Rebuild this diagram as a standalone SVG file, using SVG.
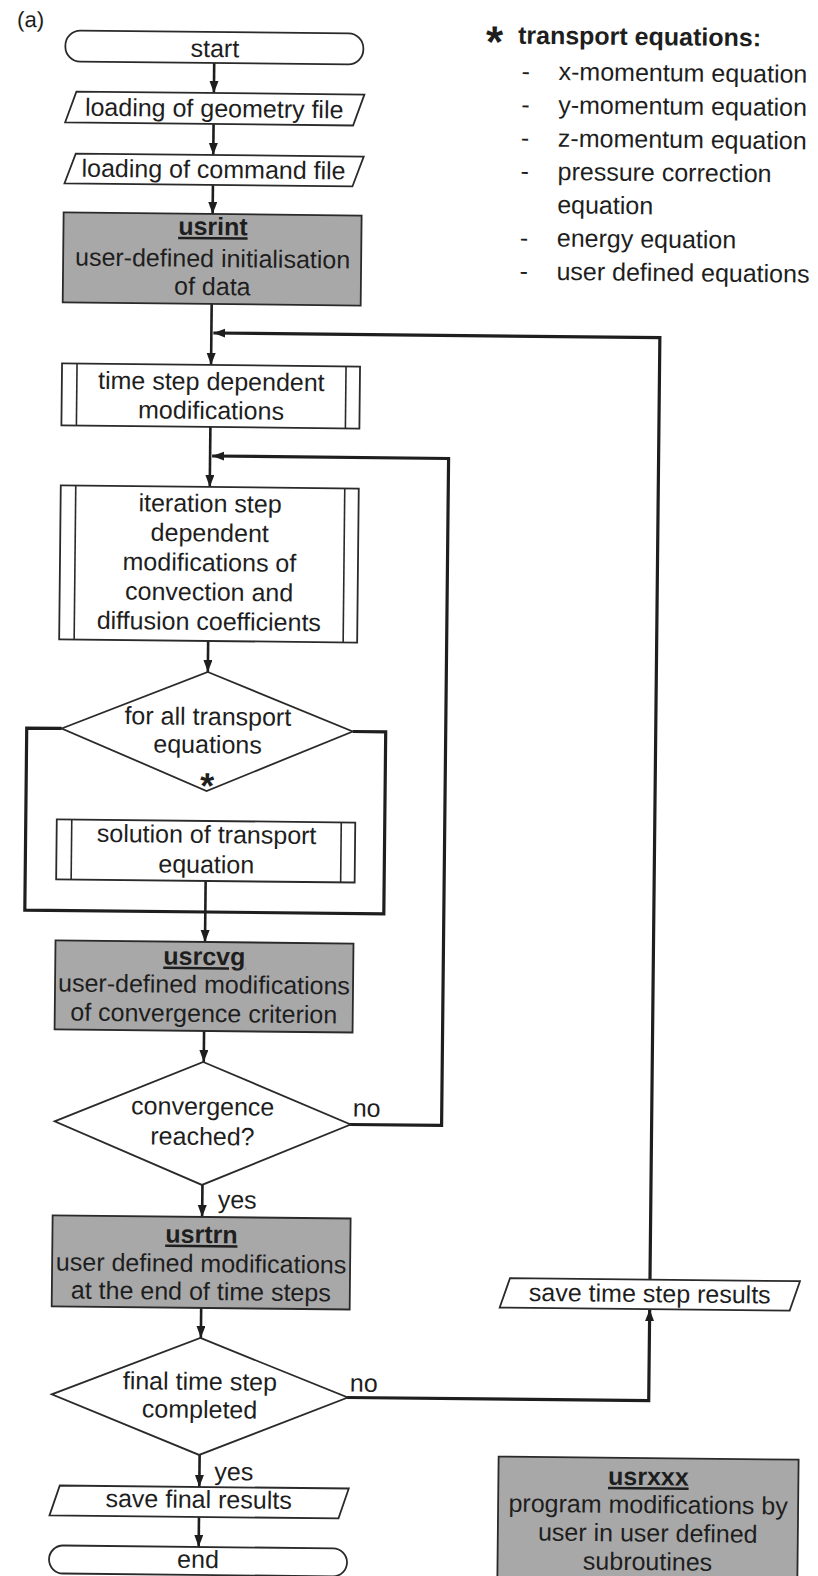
<svg xmlns="http://www.w3.org/2000/svg" width="818" height="1576" viewBox="0 0 818 1576">
  <defs>
    <style>
      .n { fill:#ffffff; stroke:#2a2a2a; stroke-width:1.8; }
      .g { fill:#a8a8a8; stroke:#2a2a2a; stroke-width:1.8; }
      .ln { fill:none; stroke:#2a2a2a; stroke-width:1.6; }
      .t { font-family:"Liberation Sans", Arial, sans-serif; font-size:25px; fill:#1e1e1e; text-anchor:middle; }
      .s { text-anchor:start; }
      .h { font-weight:bold; }
      .u { font-weight:bold; text-decoration:underline; }
      .c { fill:none; stroke:#1e1e1e; stroke-width:2.6; }
      .k { fill:none; stroke:#1e1e1e; stroke-width:3.2; }
    </style>
    <marker id="ah" markerUnits="userSpaceOnUse" markerWidth="13" markerHeight="10" refX="12" refY="4.5" orient="auto">
      <path d="M0,0 L12,4.5 L0,9 z" fill="#1e1e1e"/>
    </marker>
  </defs>

  <rect x="0" y="0" width="818" height="1576" fill="#ffffff"/>

  <g transform="rotate(0.6 400 800)">
    <text class="t s" x="9" y="31" style="font-size:22px">(a)</text>

    <!-- connectors -->
    <g id="connectors">
      <line class="c" x1="206.5" y1="65" x2="206.5" y2="95" marker-end="url(#ah)"/>
      <line class="c" x1="206.5" y1="126" x2="206.5" y2="157" marker-end="url(#ah)"/>
      <line class="c" x1="206.5" y1="187" x2="206.5" y2="216" marker-end="url(#ah)"/>
      <line class="c" x1="206.5" y1="306" x2="206.5" y2="367" marker-end="url(#ah)"/>
      <line class="c" x1="206.5" y1="429" x2="206.5" y2="489" marker-end="url(#ah)"/>
      <line class="c" x1="206.5" y1="643" x2="206.5" y2="674" marker-end="url(#ah)"/>
      <line class="c" x1="206.5" y1="883" x2="206.5" y2="944" marker-end="url(#ah)"/>
      <line class="c" x1="206.5" y1="1033" x2="206.5" y2="1064" marker-end="url(#ah)"/>
      <line class="c" x1="206.5" y1="1187" x2="206.5" y2="1219" marker-end="url(#ah)"/>
      <line class="c" x1="206.5" y1="1310" x2="206.5" y2="1340" marker-end="url(#ah)"/>
      <line class="c" x1="206.5" y1="1457" x2="206.5" y2="1489" marker-end="url(#ah)"/>
      <line class="c" x1="206.5" y1="1519" x2="206.5" y2="1549" marker-end="url(#ah)"/>
      <!-- loop over transport equations -->
      <path class="k" d="M61,732 L26,732 L26,914 L385,914 L385,732 L352,732"/>
      <!-- iteration loop -->
      <path class="k" d="M353,1125 L445,1125 L445,458 L208.5,458" marker-end="url(#ah)"/>
      <!-- time step loop -->
      <path class="k" d="M353,1398 L655,1398 L655,1306.5" marker-end="url(#ah)"/>
      <path class="k" d="M655,1277 L655,335 L208.5,335" marker-end="url(#ah)"/>
    </g>

    <g id="start">
      <rect class="n" x="57.5" y="34" width="298" height="31" rx="15" ry="15"/>
      <text class="t" x="207" y="59">start</text>
    </g>

    <g id="load-geometry">
      <polygon class="n" points="58,126 69,95 357,95 346,126"/>
      <text class="t" x="207" y="119">loading of geometry file</text>
    </g>

    <g id="load-command">
      <polygon class="n" points="58,187 69,157 357,157 346,187"/>
      <text class="t" x="207" y="180">loading of command file</text>
    </g>

    <g id="usrint">
      <rect class="g" x="57.5" y="216" width="298" height="90"/>
      <text class="t u" x="207" y="237">usrint</text>
      <text class="t" x="207" y="269">user-defined initialisation</text>
      <text class="t" x="207" y="297">of data</text>
    </g>

    <g id="timestep-mods">
      <rect class="n" x="57.5" y="367" width="298" height="62"/>
      <line class="ln" x1="72.5" y1="367" x2="72.5" y2="429"/>
      <line class="ln" x1="341.5" y1="367" x2="341.5" y2="429"/>
      <text class="t" x="207" y="392">time step dependent</text>
      <text class="t" x="207" y="421">modifications</text>
    </g>

    <g id="iteration-mods">
      <rect class="n" x="57.5" y="489" width="298" height="154"/>
      <line class="ln" x1="72.5" y1="489" x2="72.5" y2="643"/>
      <line class="ln" x1="341.5" y1="489" x2="341.5" y2="643"/>
      <text class="t" x="207" y="514">iteration step</text>
      <text class="t" x="207" y="543.5">dependent</text>
      <text class="t" x="207" y="573">modifications of</text>
      <text class="t" x="207" y="602.5">convection and</text>
      <text class="t" x="207" y="632">diffusion coefficients</text>
    </g>

    <g id="for-all-equations">
      <polygon class="n" points="206.5,674 352,732 206.5,793 61,732"/>
      <text class="t" x="207" y="727">for all transport</text>
      <text class="t" x="207" y="755">equations</text>
      <text class="t h" x="207" y="800" style="font-size:36px">*</text>
    </g>

    <g id="solve-equation">
      <rect class="n" x="57" y="823" width="298.5" height="60"/>
      <line class="ln" x1="72" y1="823" x2="72" y2="883"/>
      <line class="ln" x1="341.5" y1="823" x2="341.5" y2="883"/>
      <text class="t" x="207" y="845">solution of transport</text>
      <text class="t" x="207" y="875">equation</text>
    </g>

    <g id="usrcvg">
      <rect class="g" x="57" y="944" width="298" height="89"/>
      <text class="t u" x="206" y="967">usrcvg</text>
      <text class="t" x="206" y="995">user-defined modifications</text>
      <text class="t" x="206" y="1024">of convergence criterion</text>
    </g>

    <g id="convergence">
      <polygon class="n" points="206,1064 354,1125 206,1187 58,1125"/>
      <text class="t" x="206" y="1117">convergence</text>
      <text class="t" x="206" y="1147">reached?</text>
      <text class="t s" x="356" y="1117">no</text>
      <text class="t s" x="222" y="1210">yes</text>
    </g>

    <g id="usrtrn">
      <rect class="g" x="57" y="1219" width="298" height="91"/>
      <text class="t u" x="206" y="1245">usrtrn</text>
      <text class="t" x="206" y="1274">user defined modifications</text>
      <text class="t" x="206" y="1302">at the end of time steps</text>
    </g>

    <g id="final-step">
      <polygon class="n" points="206,1340 354,1398 206,1457 58,1398"/>
      <text class="t" x="206" y="1392">final time step</text>
      <text class="t" x="206" y="1420">completed</text>
      <text class="t s" x="356" y="1392">no</text>
      <text class="t s" x="221.5" y="1482">yes</text>
    </g>

    <g id="save-step">
      <polygon class="n" points="505,1306.5 515,1277 805,1277 795,1306.5"/>
      <text class="t" x="655" y="1299.5">save time step results</text>
    </g>

    <g id="save-final">
      <polygon class="n" points="57,1519 67,1489 356,1489 346,1519"/>
      <text class="t" x="206" y="1510">save final results</text>
    </g>

    <g id="end">
      <rect class="n" x="57" y="1549" width="298" height="28" rx="14" ry="14"/>
      <text class="t" x="206" y="1570">end</text>
    </g>

    <g id="usrxxx">
      <rect class="g" x="505.5" y="1455.5" width="300" height="160"/>
      <text class="t u" x="655.5" y="1482.5">usrxxx</text>
      <text class="t" x="655.5" y="1510.5">program modifications by</text>
      <text class="t" x="655.5" y="1539">user in user defined</text>
      <text class="t" x="655.5" y="1567.5">subroutines</text>
    </g>

    <g id="legend">
      <text class="t h" x="486.5" y="56" style="font-size:44px">*</text>
      <text class="t s h" x="510" y="42.5">transport equations:</text>
      <text class="t s" x="514" y="78.5">-</text>
      <text class="t s" x="551" y="78.5">x-momentum equation</text>
      <text class="t s" x="514" y="111.8">-</text>
      <text class="t s" x="551" y="111.8">y-momentum equation</text>
      <text class="t s" x="514" y="145.1">-</text>
      <text class="t s" x="551" y="145.1">z-momentum equation</text>
      <text class="t s" x="514" y="178.4">-</text>
      <text class="t s" x="551" y="178.4">pressure correction</text>
      <text class="t s" x="551" y="211.7">equation</text>
      <text class="t s" x="514" y="245">-</text>
      <text class="t s" x="551" y="245">energy equation</text>
      <text class="t s" x="514" y="278.3">-</text>
      <text class="t s" x="551" y="278.3">user defined equations</text>
    </g>
  </g>
</svg>
